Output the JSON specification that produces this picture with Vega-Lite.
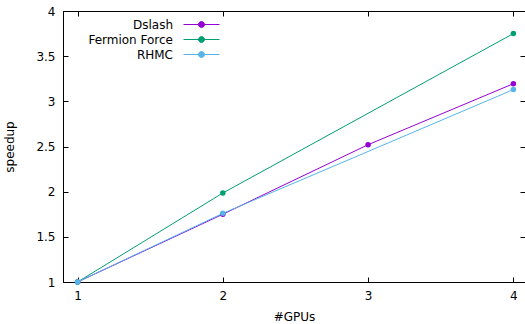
{
  "$schema": "https://vega.github.io/schema/vega-lite/v6.json",
  "width": 462,
  "height": 271,
  "autosize": {"type": "none"},
  "padding": {"left": 63, "top": 11, "right": 0, "bottom": 42},
  "config": {
    "font": "DejaVu Sans",
    "view": {"stroke": "black", "strokeWidth": 1},
    "axis": {
      "grid": false,
      "domain": false,
      "tickColor": "black",
      "tickSize": -5,
      "tickWidth": 1,
      "labelColor": "black",
      "labelFontSize": 12,
      "labelFont": "DejaVu Sans",
      "titleFont": "DejaVu Sans",
      "titleFontSize": 12,
      "titleFontWeight": "normal",
      "titleColor": "black"
    }
  },
  "data": {
    "values": [
      {"gpus": 1, "speedup": 1, "series": "Dslash"},
      {"gpus": 2, "speedup": 1.75, "series": "Dslash"},
      {"gpus": 3, "speedup": 2.52, "series": "Dslash"},
      {"gpus": 4, "speedup": 3.195, "series": "Dslash"},
      {"gpus": 1, "speedup": 1, "series": "Fermion Force"},
      {"gpus": 2, "speedup": 1.985, "series": "Fermion Force"},
      {"gpus": 4, "speedup": 3.75, "series": "Fermion Force"},
      {"gpus": 1, "speedup": 1, "series": "RHMC"},
      {"gpus": 2, "speedup": 1.76, "series": "RHMC"},
      {"gpus": 4, "speedup": 3.13, "series": "RHMC"}
    ]
  },
  "resolve": {"axis": {"x": "independent", "y": "independent"}},
  "layer": [
    {
      "mark": {"type": "line", "strokeWidth": 1, "point": {"filled": true, "size": 30}},
      "encoding": {
        "x": {
          "field": "gpus", "type": "quantitative",
          "scale": {"domain": [0.9, 4.08], "nice": false, "zero": false},
          "axis": {"orient": "bottom", "values": [1, 2, 3, 4], "title": "#GPUs", "labelPadding": 13, "titlePadding": 10}
        },
        "y": {
          "field": "speedup", "type": "quantitative",
          "scale": {"domain": [1, 4], "nice": false, "zero": false},
          "axis": {"orient": "left", "values": [1, 1.5, 2, 2.5, 3, 3.5, 4], "labelExpr": "'' + datum.value", "title": "speedup", "labelPadding": 13, "titlePadding": 19}
        },
        "color": {
          "field": "series", "type": "nominal",
          "scale": {"domain": ["Dslash", "Fermion Force", "RHMC"], "range": ["#9400d3", "#009e73", "#56b4e9"]},
          "legend": {
            "title": null,
            "orient": "none",
            "legendX": 132.5,
            "legendY": 7.5,
            "symbolType": "M-6,0H6M1,0A1,1,0,1,1,-1,0A1,1,0,1,1,1,0Z",
            "symbolSize": 36,
            "symbolStrokeWidth": 1,
            "labelAlign": "right",
            "labelOffset": -34.5,
            "labelFontSize": 12,
            "labelFont": "DejaVu Sans",
            "labelColor": "black",
            "rowPadding": 3,
            "encode": {
              "symbols": {"update": {"fill": {"scale": "color", "field": "value"}, "stroke": {"scale": "color", "field": "value"}, "opacity": {"value": 1}}}
            }
          }
        }
      }
    },
    {
      "mark": {"type": "line", "opacity": 0},
      "encoding": {
        "x": {
          "field": "gpus", "type": "quantitative",
          "axis": {"orient": "top", "values": [1, 2, 3, 4], "labels": false, "title": null}
        },
        "y": {
          "field": "speedup", "type": "quantitative",
          "axis": {"orient": "right", "values": [1, 1.5, 2, 2.5, 3, 3.5, 4], "labels": false, "title": null}
        },
        "detail": {"field": "series"}
      }
    }
  ]
}
